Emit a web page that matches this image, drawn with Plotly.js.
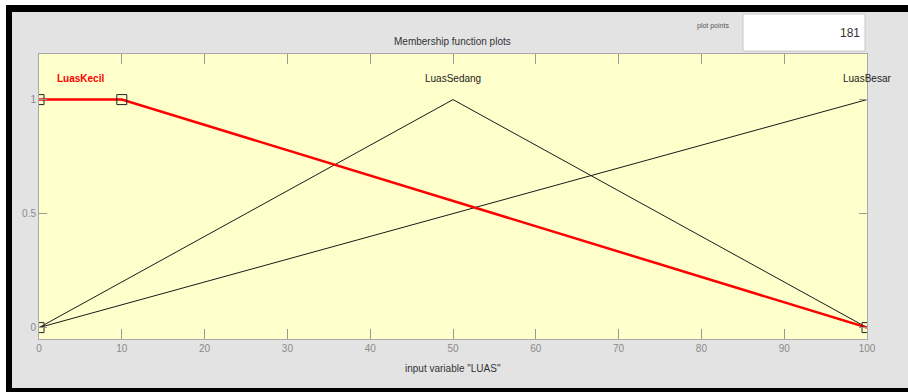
<!DOCTYPE html>
<html>
<head>
<meta charset="utf-8">
<script src="https://cdn.plot.ly/plotly-3.0.1.min.js"></script>
<style>html,body{margin:0;padding:0;background:#e3e3e3;}#chart{width:908px;height:392px;}</style>
</head>
<body>
<div id="chart"></div>
<script>
// Membership functions of input variable "LUAS"
const mfNames = ['LuasKecil', 'LuasSedang', 'LuasBesar'];
const mfLabelX = [5, 50, 100];
const kecilX = [0, 10, 100];
const kecilY = [1, 1, 0];
const sedangX = [0, 50, 100];
const sedangY = [0, 1, 0];
const besarX = [0, 100];
const besarY = [0, 1];
const paramX = [0, 0, 10, 100];   // trapmf parameters of selected MF
const paramY = [0, 1, 1, 0];
const xTicks = [0, 10, 20, 30, 40, 50, 60, 70, 80, 90, 100];
const yTicks = [0, 0.5, 1];
const yTickText = ['0', '0.5', '1'];
const plotPoints = '181';

const W = 908, H = 392;
const L = 39, R = 867, T = 54, B = 339;
const pw = R - L, ph = B - T;
const px = x => (x - L) / pw;
const py = y => (B - y) / ph;

const font = 'Liberation Sans, Arial, sans-serif';

const traces = [
  {x: besarX, y: besarY, mode: 'lines', line: {color: '#1a1a1a', width: 1}, hoverinfo: 'skip'},
  {x: sedangX, y: sedangY, mode: 'lines', line: {color: '#1a1a1a', width: 1}, hoverinfo: 'skip'},
  {x: kecilX, y: kecilY, mode: 'lines', line: {color: '#ff0000', width: 2.5}, hoverinfo: 'skip'},
  {x: paramX, y: paramY, mode: 'markers', marker: {symbol: 'square-open', size: 10, color: '#222', line: {width: 1, color: '#222'}}, hoverinfo: 'skip'}
];

const rect = (x0, y0, x1, y1, fill, line) => ({
  type: 'rect', xref: 'paper', yref: 'paper', layer: 'below',
  x0: px(x0), x1: px(x1), y0: py(y0), y1: py(y1),
  fillcolor: fill, line: line || {width: 0}
});

const shapes = [
  rect(0, 0, W, 5, '#ffffff'),
  rect(0, 0, 6, H, '#ffffff'),
  rect(6, 5, W, 12, '#000000'),
  rect(6, 5, 12, H, '#000000'),
  rect(6, 388, W, H, '#000000'),
  rect(743, 14, 865, 51, '#ffffff', {color: '#c8c8c8', width: 1})
];

const annotations = [
  {text: 'Membership function plots', xref: 'paper', yref: 'paper', x: px(452), y: py(41), xanchor: 'center', yanchor: 'middle', showarrow: false, font: {family: font, size: 10, color: '#333'}},
  {text: 'input variable "LUAS"', xref: 'paper', yref: 'paper', x: px(453), y: py(368), xanchor: 'center', yanchor: 'middle', showarrow: false, font: {family: font, size: 10, color: '#333'}},
  {text: 'plot points', xref: 'paper', yref: 'paper', x: px(713), y: py(26), xanchor: 'center', yanchor: 'middle', showarrow: false, font: {family: font, size: 7, color: '#555'}},
  {text: plotPoints, xref: 'paper', yref: 'paper', x: px(862), y: py(33), xanchor: 'right', yanchor: 'middle', showarrow: false, font: {family: font, size: 12, color: '#333'}}
];
mfNames.forEach((n, i) => {
  annotations.push({
    text: i === 0 ? '<b>' + n + '</b>' : n,
    xref: 'x', yref: 'paper', x: mfLabelX[i], y: py(78),
    xanchor: 'center', yanchor: 'middle', showarrow: false,
    font: {family: font, size: 10, color: i === 0 ? '#ff0000' : '#222'}
  });
});

const layout = {
  width: W, height: H,
  margin: {l: L, r: W - R, t: T, b: H - B, pad: 0},
  paper_bgcolor: '#e3e3e3',
  plot_bgcolor: '#ffffcc',
  showlegend: false,
  xaxis: {
    range: [0, 100], tickvals: xTicks, ticks: 'inside', ticklen: 10, tickcolor: '#999',
    showline: true, linecolor: '#a8a8a8', linewidth: 1, mirror: 'ticks',
    showgrid: false, zeroline: false, fixedrange: true,
    tickfont: {family: font, size: 10, color: '#8a8a8a'}
  },
  yaxis: {
    range: [-0.05, 1.2], tickvals: yTicks, ticktext: yTickText, ticks: 'inside', ticklen: 8, tickcolor: '#999',
    showline: true, linecolor: '#a8a8a8', linewidth: 1, mirror: 'ticks',
    showgrid: false, zeroline: false, fixedrange: true,
    tickfont: {family: font, size: 10, color: '#8a8a8a'}
  },
  shapes: shapes,
  annotations: annotations
};

Plotly.newPlot('chart', traces, layout, {staticPlot: true, displayModeBar: false});
</script>
</body>
</html>
